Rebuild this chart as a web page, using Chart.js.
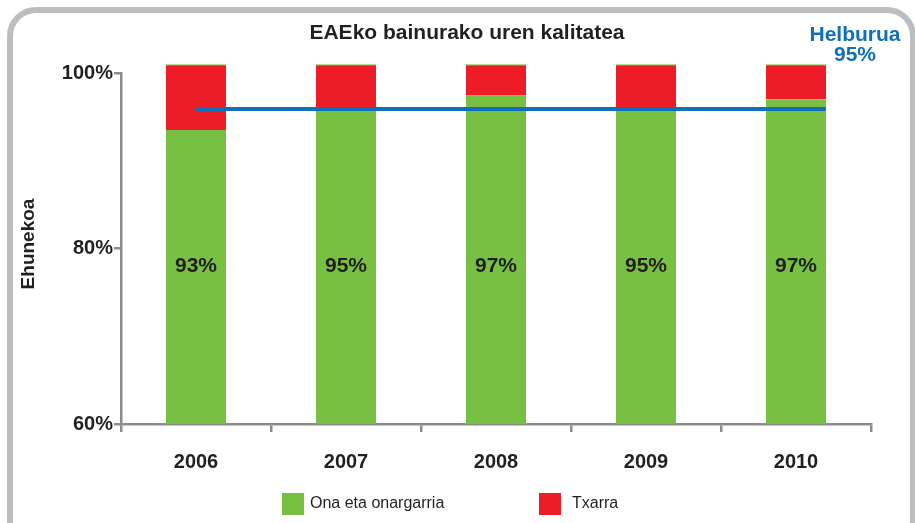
<!DOCTYPE html>
<html>
<head>
<meta charset="utf-8">
<script src="https://cdn.jsdelivr.net/npm/chart.js@4"></script>
<style>
  html, body { margin: 0; padding: 0; background: #fff; }
  #wrap { position: relative; width: 915px; height: 523px; }
</style>
</head>
<body>
<div id="wrap"><canvas id="qualityChart" width="915" height="523"></canvas></div>
<script>
  // data
  var years = ['2006', '2007', '2008', '2009', '2010'];
  var goodValues = [93.5, 95.8, 97.4, 95.8, 97.0];
  var badValues = [7.5, 5.2, 3.6, 5.2, 4.0];
  var barLabels = ['93%', '95%', '97%', '95%', '97%'];
  var yTicks = [60, 80, 100];
  var targetValue = 95.9;
  var targetFrom = 0, targetTo = 4.2;   // category positions of the target line
  var labelLevel = 78;                   // where the % labels sit on the y scale

  var green = '#77c043', red = '#ed1c29', blue = '#0f6fb8', ink = '#231f20', axisGray = '#8c8c8c';
  var fam = '"Liberation Sans", Arial, sans-serif';
  var boldFont = { family: 'Liberation Sans, Arial, sans-serif', size: 20, weight: 'bold' };
  var topOnly = { left: false, right: false, top: false, bottom: 0 };

  var extras = {
    id: 'extras',
    beforeDraw: function (chart) {
      var c = chart.ctx;
      c.save();
      c.strokeStyle = '#bcbdc0';
      c.lineWidth = 6;
      c.beginPath();
      c.roundRect(10, 10, 903, 560, 26);
      c.stroke();
      c.restore();
    },
    afterDraw: function (chart) {
      var c = chart.ctx, xs = chart.scales.x, ys = chart.scales.y;
      c.save();
      c.fillStyle = ink;
      c.textAlign = 'center';
      c.textBaseline = 'middle';
      c.font = 'bold 21px ' + fam;
      c.fillText('EAEko bainurako uren kalitatea', 467, 33);
      barLabels.forEach(function (t, i) {
        c.fillText(t, xs.getPixelForValue(i), ys.getPixelForValue(labelLevel));
      });
      c.fillStyle = blue;
      c.fillText('Helburua', 855, 35);
      c.fillText('95%', 855, 55);
      c.fillStyle = ink;
      c.font = 'bold 19px ' + fam;
      c.translate(29, 244);
      c.rotate(-Math.PI / 2);
      c.fillText('Ehunekoa', 0, 0);
      c.restore();

      // legend
      c.save();
      c.font = '16px ' + fam;
      c.textBaseline = 'middle';
      c.textAlign = 'left';
      c.fillStyle = green; c.fillRect(282, 493, 22, 22);
      c.fillStyle = red; c.fillRect(539, 493, 22, 22);
      c.fillStyle = ink;
      c.fillText('Ona eta onargarria', 310, 504);
      c.fillText('Txarra', 572, 504);
      c.restore();
    }
  };

  var ctx = document.getElementById('qualityChart').getContext('2d');
  var qualityChart = new Chart(ctx, {
    type: 'bar',
    data: {
      labels: years,
      datasets: [{
        label: 'Ona eta onargarria',
        data: goodValues,
        backgroundColor: green,
        borderWidth: 0,
        stack: 'bars',
        grouped: false,
        order: 2,
        clip: topOnly
      }, {
        label: 'Txarra',
        data: badValues,
        backgroundColor: red,
        borderColor: green,
        borderWidth: { top: 1, left: 0, right: 0, bottom: 0 },
        borderSkipped: 'bottom',
        stack: 'bars',
        grouped: false,
        order: 2,
        clip: topOnly
      }, {
        type: 'line',
        label: 'Helburua',
        data: [{ x: targetFrom, y: targetValue }, { x: targetTo, y: targetValue }],
        xAxisID: 'x2',
        stack: 'target',
        borderColor: blue,
        borderWidth: 4,
        pointRadius: 0,
        fill: false,
        order: 1,
        clip: false
      }]
    },
    options: {
      animation: false,
      responsive: false,
      barPercentage: 1,
      categoryPercentage: 0.4,
      layout: { padding: { left: 0, right: 44, top: 73, bottom: 39 } },
      plugins: { legend: { display: false }, tooltip: { enabled: false } },
      scales: {
        x: {
          stacked: true,
          grid: { offset: true, drawOnChartArea: false, drawTicks: true, tickLength: 8, color: axisGray, lineWidth: 2.5 },
          border: { color: axisGray, width: 2.5 },
          ticks: { color: ink, font: boldFont, padding: 18 },
          afterFit: function (axis) { axis.height = 60; }
        },
        x2: {
          type: 'linear',
          offset: false,
          min: -0.5,
          max: 4.5,
          display: false
        },
        y: {
          stacked: true,
          min: 60,
          max: 100,
          afterBuildTicks: function (axis) { axis.ticks = yTicks.map(function (v) { return { value: v }; }); },
          grid: { drawOnChartArea: false, drawTicks: true, tickLength: 7, color: axisGray, lineWidth: 2.5 },
          border: { color: axisGray, width: 2.5 },
          ticks: { color: ink, font: boldFont, padding: 1, callback: function (v) { return v + '%'; } },
          afterFit: function (axis) { axis.width = 121; }
        }
      }
    },
    plugins: [extras]
  });
</script>
</body>
</html>
